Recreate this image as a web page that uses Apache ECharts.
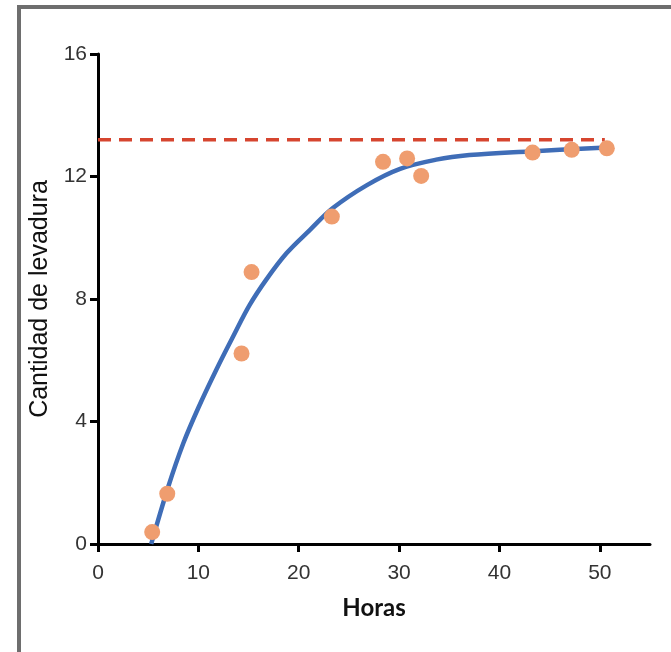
<!DOCTYPE html>
<html>
<head>
<meta charset="utf-8">
<script src="https://cdn.jsdelivr.net/npm/echarts@6/dist/echarts.min.js"></script>
<style>
  html, body { margin: 0; padding: 0; background: #fff; }
  #chart { width: 671px; height: 652px; }
</style>
</head>
<body>
<div id="chart"></div>
<script>
// puntos medidos (horas, cantidad)
const horasPuntos = [5.4, 6.9, 14.3, 15.3, 23.3, 28.4, 30.8, 32.2, 43.3, 47.2, 50.7]
const levaduraPuntos = [0.39, 1.64, 6.22, 8.88, 10.69, 12.48, 12.59, 12.02, 12.78, 12.87, 12.92]

// curva ajustada
const horasCurva = [5.3, 7.0, 8.5, 10.0, 11.8, 13.5, 15.1, 16.8, 18.8, 21.1, 23.4, 26.8, 30.1, 33.7, 37.0, 43.0, 50.7]
const levaduraCurva = [0, 1.87, 3.29, 4.45, 5.7, 6.8, 7.8, 8.65, 9.5, 10.25, 10.97, 11.72, 12.25, 12.55, 12.7, 12.82, 12.95]

// línea límite (discontinua)
const horasLimite = [0, 50.5]
const levaduraLimite = [13.2, 13.2]

const ticksX = [0, 10, 20, 30, 40, 50]
const ticksY = [0, 4, 8, 12, 16]

const myChart = echarts.init(document.getElementById('chart'))

const options = {
    animation: false,
    grid: {
        left: 98,
        top: 54,
        right: 21,
        bottom: 108
    },
    // marco gris
    graphic: [
        { type: 'rect', shape: { x: 17, y: 5, width: 660, height: 4 }, style: { fill: '#6e6e6e' } },
        { type: 'rect', shape: { x: 17, y: 5, width: 4, height: 660 }, style: { fill: '#6e6e6e' } }
    ],
    xAxis: {
        type: 'value',
        min: 0,
        max: 55,
        name: 'Horas',
        nameLocation: 'middle',
        nameGap: 52,
        nameTextStyle: {
            color: '#111',
            fontSize: 24,
            fontWeight: 'bold',
            fontFamily: 'Lato'
        },
        splitLine: { show: false },
        axisLine: { lineStyle: { color: '#000', width: 3 } },
        axisTick: {
            customValues: ticksX,
            length: 8,
            lineStyle: { color: '#000', width: 3 }
        },
        axisLabel: {
            customValues: ticksX,
            margin: 19,
            color: '#333',
            fontSize: 21,
            fontFamily: 'Liberation Sans'
        }
    },
    yAxis: {
        type: 'value',
        min: 0,
        max: 16,
        interval: 4,
        name: 'Cantidad de levadura',
        nameLocation: 'middle',
        nameGap: 38,
        nameTextStyle: {
            color: '#111',
            fontSize: 25,
            fontFamily: 'Liberation Sans'
        },
        splitLine: { show: false },
        axisLine: { lineStyle: { color: '#000', width: 3 } },
        axisTick: {
            customValues: ticksY,
            length: 8,
            lineStyle: { color: '#000', width: 3 }
        },
        axisLabel: {
            customValues: ticksY,
            margin: 11,
            color: '#333',
            fontSize: 21,
            fontFamily: 'Liberation Sans'
        }
    },
    series: [
        {
            type: 'line',
            data: horasLimite.map((h, i) => [h, levaduraLimite[i]]),
            symbol: 'none',
            lineStyle: { color: '#d6452f', width: 3.5, type: [13, 8] },
            z: 1
        },
        {
            type: 'line',
            data: horasCurva.map((h, i) => [h, levaduraCurva[i]]),
            symbol: 'none',
            smooth: 0.35,
            lineStyle: { color: '#3f6db7', width: 4.5 },
            z: 2
        },
        {
            type: 'scatter',
            data: horasPuntos.map((h, i) => [h, levaduraPuntos[i]]),
            symbolSize: 16,
            itemStyle: { color: '#ef9d6f', opacity: 1 },
            z: 3
        }
    ]
}

myChart.setOption(options)
</script>
</body>
</html>
